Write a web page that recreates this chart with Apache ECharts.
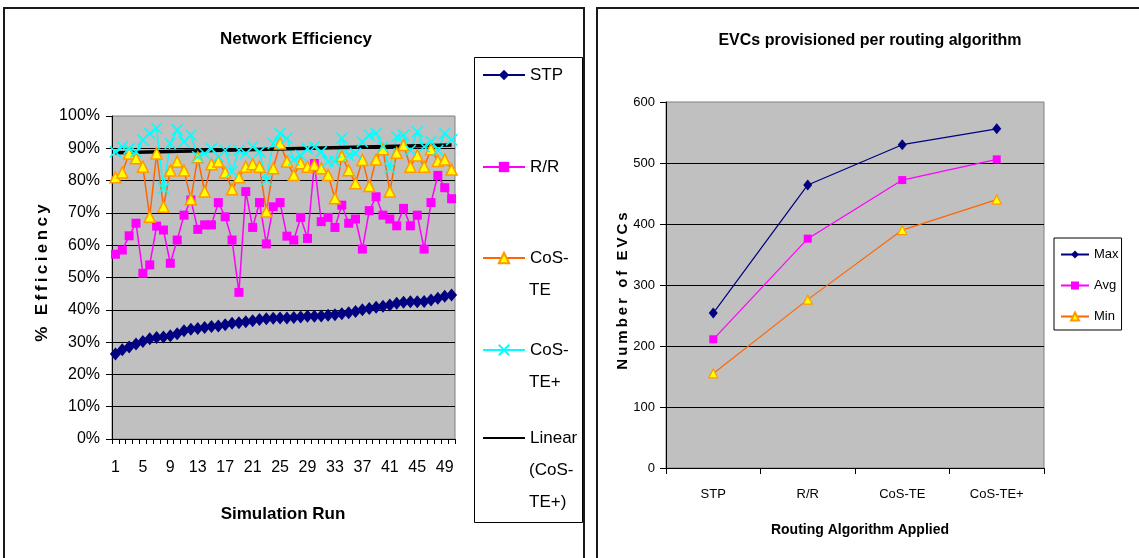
<!DOCTYPE html>
<html>
<head>
<meta charset="utf-8">
<script src="https://cdn.jsdelivr.net/npm/echarts@6/dist/echarts.min.js"></script>
<style>
  html, body { margin: 0; padding: 0; background: #ffffff; }
  #chart { width: 1139px; height: 558px; }
</style>
</head>
<body>
<div id="chart"></div>
<script>
// ---- Network Efficiency: 50 simulation runs, % efficiency per routing scheme ----
const runs = ['1','2','3','4','5','6','7','8','9','10','11','12','13','14','15','16','17','18','19','20',
  '21','22','23','24','25','26','27','28','29','30','31','32','33','34','35','36','37','38','39','40',
  '41','42','43','44','45','46','47','48','49','50'];
const stp = [26.3, 27.6, 28.5, 29.4, 30.2, 31, 31.4, 31.6, 32, 32.6,
  33.5, 34, 34.2, 34.5, 34.8, 35, 35.4, 35.8, 36, 36.3,
  36.6, 37, 37.2, 37.4, 37.5, 37.5, 37.6, 37.8, 38, 38,
  38.1, 38.3, 38.5, 38.8, 39.1, 39.5, 40, 40.4, 40.8, 41.1,
  41.5, 42, 42.3, 42.5, 42.5, 42.6, 43, 43.6, 44.2, 44.6];
const rr = [57.2, 58.5, 62.9, 66.8, 51.3, 53.9, 65.9, 64.7, 54.4, 61.6,
  69.3, 74.0, 64.9, 66.3, 66.3, 73.2, 68.8, 61.6, 45.4, 76.6,
  65.5, 73.2, 60.4, 71.9, 73.2, 62.8, 61.6, 68.6, 62.1, 85.3,
  67.3, 68.6, 65.5, 72.4, 66.8, 68.1, 58.8, 70.7, 75.0, 69.3,
  68.1, 66.0, 71.4, 66.0, 69.3, 58.8, 73.2, 81.6, 77.8, 74.4];
const cosTe = [81.0, 82.5, 88.4, 86.9, 84.3, 68.8, 88.4, 71.9, 83.1, 85.9,
  83.1, 74.2, 87.2, 76.6, 85.1, 85.9, 82.5, 77.3, 81.0, 84.3,
  85.1, 84.3, 70.4, 83.8, 91.5, 85.9, 81.7, 85.4, 84.3, 84.8,
  83.8, 81.7, 74.5, 87.6, 83.2, 79.2, 86.4, 78.3, 86.5, 89.7,
  76.6, 88.6, 91.0, 84.3, 87.8, 84.3, 89.7, 86.1, 86.5, 83.4];
const cosTePlus = [88.9, 90.5, 89.9, 88.9, 92.6, 94.6, 96.2, 77.6, 91.5, 95.7,
  92.0, 94.1, 87.4, 88.4, 89.9, 87.4, 89.4, 82.8, 89.4, 88.4,
  90.5, 88.9, 80.2, 91.5, 94.6, 93.1, 86.4, 87.8, 89.9, 90.5,
  88.9, 85.9, 85.9, 93.1, 87.8, 88.4, 92.0, 94.1, 94.6, 90.5,
  83.8, 93.6, 94.1, 89.4, 95.1, 90.5, 92.0, 89.4, 94.6, 92.6];
// linear trend of CoS-TE+ : value at first run, value at last run
const trendEnds = [88.6, 91.0];

// ---- EVCs provisioned per routing algorithm ----
const algorithms = ['STP', 'R/R', 'CoS-TE', 'CoS-TE+'];
const evcMax = [254, 464, 530, 556];
const evcAvg = [211, 376, 472, 506];
const evcMin = [155, 276, 390, 440];

const FONT = "'Liberation Sans', Arial, sans-serif";
const spaced = s => s.split('').join('\u2009');
const X_MARK = 'path://M0,0L10,10M10,0L0,10';

// left-chart legend entries: first line goes in the legend, the rest wraps below it
const leftLegend = [
  { name: 'STP',              lines: ['STP'],                     y: 75 },
  { name: 'R/R',              lines: ['R/R'],                     y: 167 },
  { name: 'CoS-TE',           lines: ['CoS-', 'TE'],              y: 258 },
  { name: 'CoS-TE+',          lines: ['CoS-', 'TE+'],             y: 350 },
  { name: 'Linear (CoS-TE+)', lines: ['Linear', '(CoS-', 'TE+)'], y: 438 }
];
const LH = 32;
const LEG_FS = 17;
const legends = leftLegend.map(e => ({
  data: [e.name === 'Linear (CoS-TE+)'
    ? { name: e.name, itemStyle: { opacity: 0 } }
    : e.name],
  left: 482, top: e.y - LH / 2,
  orient: 'vertical', padding: 0, itemGap: 0,
  itemWidth: 42, itemHeight: 13,
  selectedMode: false,
  formatter: () => e.lines[0],
  textStyle: { fontFamily: FONT, fontSize: LEG_FS, color: '#000', lineHeight: LH }
}));
legends.push({
  data: ['Max', 'Avg', 'Min'],
  left: 1054, top: 238,
  orient: 'vertical',
  padding: [10, 3, 7, 6], itemGap: 18,
  itemWidth: 28, itemHeight: 10,
  selectedMode: false,
  borderColor: '#000', borderWidth: 1, backgroundColor: '#fff',
  textStyle: { fontFamily: FONT, fontSize: 13, color: '#000' }
});

const legendWrapTexts = [];
leftLegend.forEach(e => {
  e.lines.slice(1).forEach((t, k) => {
    legendWrapTexts.push({
      type: 'text', x: 529, y: e.y + LH * (k + 1),
      style: { text: t, font: LEG_FS + 'px ' + FONT, fill: '#000',
               align: 'left', verticalAlign: 'middle' }
    });
  });
});

const chart = echarts.init(document.getElementById('chart'), null, { renderer: 'canvas' });

const axisLabelStyle = size => ({ fontFamily: FONT, fontSize: size, color: '#000' });

chart.setOption({
  animation: false,
  textStyle: { fontFamily: FONT },
  legend: legends,
  grid: [
    { left: 112, right: 684, top: 116, bottom: 119, show: true,
      backgroundColor: '#c0c0c0', borderColor: '#808080', borderWidth: 1 },
    { left: 666, right: 95, top: 102, bottom: 90, show: true,
      backgroundColor: '#c0c0c0', borderColor: '#808080', borderWidth: 1 }
  ],
  xAxis: [
    { type: 'category', gridIndex: 0, data: runs, boundaryGap: true,
      axisLine: { lineStyle: { color: '#000', width: 1 } },
      axisTick: { show: true, interval: 0, length: 5, lineStyle: { color: '#000' } },
      axisLabel: Object.assign({ interval: 3, margin: 21 }, axisLabelStyle(16)),
      splitLine: { show: false } },
    { type: 'category', gridIndex: 1, data: algorithms, boundaryGap: true,
      axisLine: { lineStyle: { color: '#000', width: 1 } },
      axisTick: { show: true, interval: 0, length: 6, lineStyle: { color: '#000' } },
      axisLabel: Object.assign({ interval: 0, margin: 20 }, axisLabelStyle(13)),
      splitLine: { show: false } }
  ],
  yAxis: [
    { type: 'value', gridIndex: 0, min: 0, max: 100, interval: 10,
      axisLine: { show: true, lineStyle: { color: '#000', width: 1 } },
      axisTick: { show: true, length: 6, lineStyle: { color: '#000' } },
      axisLabel: Object.assign({ margin: 12, formatter: '{value}%' }, axisLabelStyle(16)),
      splitLine: { show: true, showMaxLine: false, showMinLine: false,
                   lineStyle: { color: '#000', width: 1 } } },
    { type: 'value', gridIndex: 1, min: 0, max: 600, interval: 100,
      axisLine: { show: true, lineStyle: { color: '#000', width: 1 } },
      axisTick: { show: true, length: 6, lineStyle: { color: '#000' } },
      axisLabel: Object.assign({ margin: 11 }, axisLabelStyle(13)),
      splitLine: { show: true, showMaxLine: false, showMinLine: false,
                   lineStyle: { color: '#000', width: 1 } } }
  ],
  series: [
    { name: 'STP', type: 'line', xAxisIndex: 0, yAxisIndex: 0, data: stp,
      symbol: 'diamond', symbolSize: [11, 13], showAllSymbol: true,
      lineStyle: { color: '#000080', width: 1.5 },
      itemStyle: { color: '#000080' } },
    { name: 'R/R', type: 'line', xAxisIndex: 0, yAxisIndex: 0, data: rr,
      symbol: 'rect', symbolSize: 9, showAllSymbol: true,
      lineStyle: { color: '#ff00ff', width: 1.5 },
      itemStyle: { color: '#ff00ff' } },
    { name: 'CoS-TE', type: 'line', xAxisIndex: 0, yAxisIndex: 0, data: cosTe,
      symbol: 'triangle', symbolSize: 11, showAllSymbol: true,
      lineStyle: { color: '#ff6600', width: 1.5 },
      itemStyle: { color: '#ffff00', borderColor: '#ff9900', borderWidth: 1.5 } },
    { name: 'CoS-TE+', type: 'line', xAxisIndex: 0, yAxisIndex: 0, data: cosTePlus,
      symbol: X_MARK, symbolSize: 11, showAllSymbol: true,
      lineStyle: { color: '#00ffff', width: 1.5 },
      itemStyle: { color: '#00ffff', borderColor: '#00ffff', borderWidth: 1.5 } },
    { name: 'Linear (CoS-TE+)', type: 'line', xAxisIndex: 0, yAxisIndex: 0,
      data: [[0, trendEnds[0]], [runs.length - 1, trendEnds[1]]],
      symbol: 'none',
      lineStyle: { color: '#000000', width: 3.5 },
      itemStyle: { color: '#000000' } },

    { name: 'Max', type: 'line', xAxisIndex: 1, yAxisIndex: 1, data: evcMax,
      symbol: 'diamond', symbolSize: [9, 11],
      lineStyle: { color: '#000080', width: 1.2 },
      itemStyle: { color: '#000080' } },
    { name: 'Avg', type: 'line', xAxisIndex: 1, yAxisIndex: 1, data: evcAvg,
      symbol: 'rect', symbolSize: 8,
      lineStyle: { color: '#ff00ff', width: 1.2 },
      itemStyle: { color: '#ff00ff' } },
    { name: 'Min', type: 'line', xAxisIndex: 1, yAxisIndex: 1, data: evcMin,
      symbol: 'triangle', symbolSize: 9,
      lineStyle: { color: '#ff6600', width: 1.2 },
      itemStyle: { color: '#ffff00', borderColor: '#ff9900', borderWidth: 1.2 } }
  ],
  graphic: [
    // panel frames
    { type: 'rect', shape: { x: 4, y: 8, width: 580, height: 560 }, z: -10,
      style: { fill: 'none', stroke: '#1a1a1a', lineWidth: 2 } },
    { type: 'rect', shape: { x: 597, y: 8, width: 600, height: 560 }, z: -10,
      style: { fill: 'none', stroke: '#1a1a1a', lineWidth: 2 } },
    // boxed legend of the efficiency chart
    { type: 'rect', shape: { x: 474.5, y: 57.5, width: 108, height: 465 }, z: -5,
      style: { fill: '#fff', stroke: '#000', lineWidth: 1 } },
    // titles
    { type: 'text', x: 296, y: 39,
      style: { text: 'Network Efficiency', font: 'bold 17px ' + FONT, fill: '#000',
               align: 'center', verticalAlign: 'middle' } },
    { type: 'text', x: 870, y: 41,
      style: { text: 'EVCs provisioned per routing algorithm', font: 'bold 16px ' + FONT, fill: '#000',
               align: 'center', verticalAlign: 'middle' } },
    // axis names
    { type: 'text', x: 283, y: 514,
      style: { text: 'Simulation Run', font: 'bold 17px ' + FONT, fill: '#000',
               align: 'center', verticalAlign: 'middle' } },
    { type: 'text', x: 42, y: 273, rotation: Math.PI / 2,
      style: { text: spaced('% Efficiency'), font: 'bold 17px ' + FONT, fill: '#000',
               align: 'center', verticalAlign: 'middle' } },
    { type: 'text', x: 860, y: 530,
      style: { text: 'Routing Algorithm Applied', font: 'bold 14px ' + FONT, fill: '#000',
               align: 'center', verticalAlign: 'middle' } },
    { type: 'text', x: 623, y: 291, rotation: Math.PI / 2,
      style: { text: spaced('Number of EVCs'), font: 'bold 15px ' + FONT, fill: '#000',
               align: 'center', verticalAlign: 'middle' } }
  ].concat(legendWrapTexts)
});
</script>
</body>
</html>
